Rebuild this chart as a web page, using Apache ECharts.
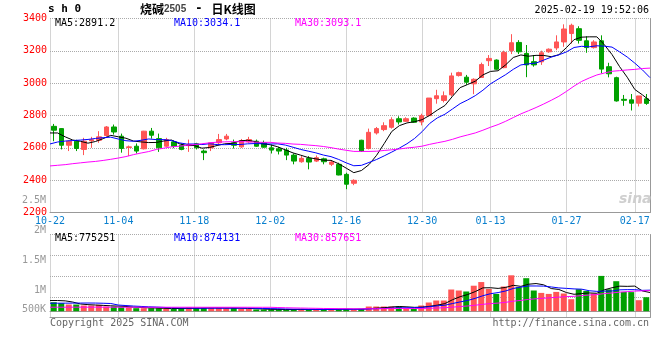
<!DOCTYPE html>
<html><head><meta charset="utf-8">
<script src="https://cdn.jsdelivr.net/npm/echarts@6/dist/echarts.min.js"></script>
<style>html,body{margin:0;padding:0;background:#fff}#c{width:660px;height:360px}</style>
</head><body><div id="c"></div>
<script>
const dates = ['10-22','10-23','10-24','10-25','10-28','10-29','10-30','10-31','11-01','11-04','11-05','11-06','11-07','11-08','11-11','11-12','11-13','11-14','11-15','11-18','11-19','11-20','11-21','11-22','11-25','11-26','11-27','11-28','11-29','12-02','12-03','12-04','12-05','12-06','12-09','12-10','12-11','12-12','12-13','12-16','12-17','12-18','12-19','12-20','12-23','12-24','12-25','12-26','12-27','12-30','12-31','01-02','01-03','01-06','01-07','01-08','01-09','01-10','01-13','01-14','01-15','01-16','01-17','01-20','01-21','01-22','01-23','01-24','01-27','02-05','02-06','02-07','02-10','02-11','02-12','02-13','02-14','02-17','02-18','02-19'];
const labelDates = ['10-22','11-04','11-18','12-02','12-16','12-30','01-13','01-27','02-17'];

const opens = [2733,2719,2616,2641,2590,2643,2647,2676,2729,2672, 2602,2610,2594,2703,2657,2610,2637,2616,2614,2625, 2580,2600,2631,2655,2631,2606,2637,2641,2631,2600, 2594,2586,2555,2514,2535,2518,2532,2498,2498,2436, 2381,2647,2596,2692,2713,2727,2780,2764,2784,2760, 2799,2904,2893,2928,3047,3037,2996,3035,3139,3143, 3096,3201,3252,3184,3133,3132,3194,3218,3255,3307, 3337,3262,3220,3262,3102,3034,2900,2897,2876,2903];
const closes = [2709,2616,2641,2596,2641,2650,2668,2729,2698,2596, 2606,2580,2703,2678,2600,2651,2610,2590,2620,2600, 2570,2631,2651,2672,2616,2645,2651,2610,2604,2586, 2580,2555,2518,2535,2512,2539,2514,2512,2432,2375, 2399,2580,2696,2719,2737,2774,2760,2780,2758,2799, 2908,2922,2922,3045,3065,3006,3024,3115,3153,3086, 3190,3250,3194,3113,3113,3188,3210,3255,3335,3358, 3265,3220,3255,3087,3058,2890,2894,2876,2921,2875];
const lows = [2641,2590,2580,2580,2555,2600,2631,2670,2682,2570, 2549,2565,2590,2657,2575,2606,2598,2585,2575,2590, 2524,2580,2620,2647,2596,2600,2631,2606,2600,2565, 2559,2524,2498,2508,2467,2512,2498,2487,2430,2344, 2369,2575,2590,2682,2703,2719,2744,2760,2754,2739, 2795,2873,2881,2918,3041,2990,2932,3035,3106,3082, 3092,3180,3180,3037,3102,3113,3188,3204,3225,3245, 3245,3188,3214,3061,3036,2886,2860,2831,2856,2866];
const highs = [2748,2722,2645,2650,2662,2668,2703,2735,2744,2688, 2614,2627,2705,2723,2688,2662,2645,2627,2651,2631, 2590,2631,2686,2686,2651,2655,2668,2651,2645,2620, 2606,2600,2565,2549,2549,2553,2539,2522,2508,2446, 2405,2650,2719,2729,2758,2789,2795,2789,2789,2811, 2908,2959,2949,3065,3071,3051,3030,3127,3174,3147, 3201,3303,3266,3236,3174,3201,3215,3296,3364,3368, 3352,3290,3266,3296,3126,3040,2927,2933,2921,2933];
const volumes = [373000,332000,278000,278000,237000,237000,261000,195000,195000,166000, 166000,125000,125000,125000,125000,95000,95000,125000,154000,137000, 137000,137000,137000,125000,137000,95000,95000,70000,70000,70000, 70000,70000,70000,95000,70000,70000,70000,95000,95000,95000, 54000,95000,195000,195000,195000,195000,195000,125000,95000,237000, 361000,444000,444000,900000,859000,818000,1058000,1210000,925000,718000, 1025000,1490000,996000,1370000,859000,760000,718000,801000,735000,498000, 913000,842000,735000,1465000,910000,1245000,801000,792000,457000,581000];

// moving-average values before enough history exists
const ma5Head = [2692,2692,2668,2648];
const ma10Head = [2624,2636,2642,2645,2648,2652,2658,2663,2666];
const ma30Head = [2488,2492,2496,2502,2507,2512,2516,2522,2529,2537,2546,2558,2568,2577,2590,2598,2606,2610,2615,2620,2625,2631,2635,2637,2638,2638,2637,2635,2634];
const vma5Head = [444000,444000,430000,380000];
const vma10Head = [332000,332000,334000,336000,338000,340000,338000,330000,320000];
const vma30Head = [166000,166000,166000,167000,167000,167000,167000,167000,166000,166000,166000,166000,166000,165000,165000,165000,165000,165000,165000,165000,164000,164000,164000,164000,164000,164000,164000,163000,163000];

const priceMin = 2200, priceMax = 3400, priceStep = 200;
const volLabelValues = [1000000, 1500000, 2000000, 2500000];

function movingAvg(vals, n, head) {
  return vals.map((v, i) => {
    if (i < n - 1) return head[i];
    let s = 0; for (let k = i - n + 1; k <= i; k++) s += vals[k];
    return +(s / n).toFixed(2);
  });
}
const mono = "'DejaVu Sans Mono', monospace";
const RED = '#ff5555', GREEN = '#00a000';
const dotted = { color: '#aaaaaa', type: 'dotted', width: 1 };
const showIdx = (idx, val) => labelDates.indexOf(val) >= 0;
const volFmt = v => v >= 1e6 ? (v / 1e6) + 'M' : (v / 1e3) + 'K';

const kData = opens.map((o, i) => [o, closes[i], lows[i], highs[i]]);
const volData = volumes.map((v, i) => ({ value: v, itemStyle: { color: closes[i] >= opens[i] ? RED : GREEN } }));

const chart = echarts.init(document.getElementById('c'), null, { renderer: 'canvas' });
const t = (text, opt, style) => Object.assign({ text, padding: 0, textStyle: Object.assign({ fontFamily: mono, fontSize: 10, fontWeight: 'normal', color: '#000' }, style || {}) }, opt);

chart.setOption({
  animation: false,
  backgroundColor: '#fff',
  title: [
    t('s h 0', { left: 48, top: 4 }, { fontSize: 11, fontWeight: 'bold' }),
    { text: '{a|烧碱}{b|2505}{c|-}{a|日K线图}', left: 140, top: 3, padding: 0,
      textStyle: { rich: {
        a: { fontFamily: "'Noto Sans CJK SC'", fontSize: 12, color: '#000' },
        b: { fontFamily: "'Liberation Sans'", fontSize: 10, color: '#444' },
        c: { fontFamily: mono, fontSize: 12, fontWeight: 'bold', color: '#000', padding: [0, 9, 0, 9] } } } },
    t('2025-02-19 19:52:06', { right: 11, top: 5 }),
    t('MA5:2891.2', { left: 55, top: 18.5 }, { color: '#000' }),
    t('MA10:3034.1', { left: 174, top: 18.5 }, { color: '#0000ff' }),
    t('MA30:3093.1', { left: 295, top: 18.5 }, { color: '#ff00ff' }),
    t('MA5:775251', { left: 55, top: 233 }, { color: '#000' }),
    t('MA10:874131', { left: 174, top: 233 }, { color: '#0000ff' }),
    t('MA30:857651', { left: 295, top: 233 }, { color: '#ff00ff' }),
    t('Copyright 2025 SINA.COM', { left: 50, top: 318 }, { color: '#666' }),
    t('http://finance.sina.com.cn', { right: 11, top: 318 }, { color: '#666' }),
    { text: 'sina', left: 619, top: 192, padding: 0, textStyle: { fontFamily: "'DejaVu Sans'", fontStyle: 'italic', fontWeight: 'bold', fontSize: 14, color: '#cfcfcf' } }
  ],
  grid: [
    { left: 50, top: 18.5, width: 600, height: 194 },
    { left: 50, top: 234.5, width: 600, height: 83 },
    { left: 50, top: 200.5, width: 600, height: 90 },
    { left: 50, top: 309, width: 600, height: 10 }
  ],
  xAxis: [
    { gridIndex: 0, type: 'category', data: dates, boundaryGap: false,
      axisLine: { show: true, lineStyle: { color: '#999' } }, axisTick: { show: false },
      axisLabel: { interval: showIdx, color: '#0a80cf', fontFamily: mono, fontSize: 10, margin: 4 },
      splitLine: { show: true, interval: showIdx, lineStyle: dotted } },
    { gridIndex: 0, type: 'category', data: dates, boundaryGap: true, show: false },
    { gridIndex: 1, type: 'category', data: dates, boundaryGap: false,
      axisLine: { show: true, lineStyle: { color: '#999' } }, axisTick: { show: false },
      axisLabel: { show: false }, splitLine: { show: true, interval: showIdx, lineStyle: dotted } },
    { gridIndex: 1, type: 'category', data: dates, boundaryGap: true, show: false },
    { gridIndex: 1, type: 'category', data: dates, boundaryGap: false, position: 'top',
      axisLine: { show: true, lineStyle: { color: '#999' } }, axisTick: { show: false },
      axisLabel: { show: false }, splitLine: { show: false } },
    { gridIndex: 2, type: 'value', show: false },
    { gridIndex: 3, type: 'value', show: false }
  ],
  yAxis: [
    { gridIndex: 0, type: 'value', min: priceMin, max: priceMax, interval: priceStep,
      axisLine: { show: false }, axisTick: { show: false },
      axisLabel: { color: '#ff0000', fontFamily: mono, fontSize: 10, margin: 3, padding: [0, 0, 4, 0], formatter: v => String(v) },
      splitLine: { show: true, lineStyle: dotted } },
    { gridIndex: 0, type: 'value', position: 'right', min: priceMin, max: priceMax,
      axisLine: { show: true, lineStyle: { color: '#999' } }, axisTick: { show: false },
      axisLabel: { show: false }, splitLine: { show: false } },
    { gridIndex: 1, type: 'value', min: -261000, max: 3183000, show: false, splitLine: { show: false } },
    { gridIndex: 1, type: 'value', min: 0, max: 4, interval: 1,
      axisLine: { show: false }, axisTick: { show: false }, axisLabel: { show: false },
      splitLine: { show: true, lineStyle: dotted } },
    { gridIndex: 1, type: 'value', position: 'right', min: 0, max: 4,
      axisLine: { show: true, lineStyle: { color: '#999' } }, axisTick: { show: false },
      axisLabel: { show: false }, splitLine: { show: false } },
    { gridIndex: 2, type: 'value', min: volLabelValues[0], max: volLabelValues[volLabelValues.length - 1], interval: 500000,
      axisLine: { show: false }, axisTick: { show: false }, splitLine: { show: false },
      axisLabel: { color: '#999', fontFamily: mono, fontSize: 10, margin: 4, formatter: volFmt } },
    { gridIndex: 3, type: 'value', min: 0, max: 500000, interval: 500000,
      axisLine: { show: false }, axisTick: { show: false }, splitLine: { show: false },
      axisLabel: { color: '#999', fontFamily: mono, fontSize: 10, margin: 4, formatter: v => v > 0 ? volFmt(v) : '' } }
  ],
  series: [
    { type: 'candlestick', xAxisIndex: 1, yAxisIndex: 0, data: kData, barWidth: 5,
      itemStyle: { color: RED, color0: GREEN, borderColor: RED, borderColor0: GREEN, borderWidth: 1 } },
    { type: 'line', xAxisIndex: 0, yAxisIndex: 0, data: movingAvg(closes, 5, ma5Head), symbol: 'none', lineStyle: { color: '#000', width: 1 } },
    { type: 'line', xAxisIndex: 0, yAxisIndex: 0, data: movingAvg(closes, 10, ma10Head), symbol: 'none', lineStyle: { color: '#0000ff', width: 1 } },
    { type: 'line', xAxisIndex: 0, yAxisIndex: 0, data: movingAvg(closes, 30, ma30Head), symbol: 'none', lineStyle: { color: '#ff00ff', width: 1 } },
    { type: 'bar', xAxisIndex: 3, yAxisIndex: 2, data: volData, barWidth: 6 },
    { type: 'line', xAxisIndex: 2, yAxisIndex: 2, data: movingAvg(volumes, 5, vma5Head), symbol: 'none', lineStyle: { color: '#000', width: 1 } },
    { type: 'line', xAxisIndex: 2, yAxisIndex: 2, data: movingAvg(volumes, 10, vma10Head), symbol: 'none', lineStyle: { color: '#0000ff', width: 1 } },
    { type: 'line', xAxisIndex: 2, yAxisIndex: 2, data: movingAvg(volumes, 30, vma30Head), symbol: 'none', lineStyle: { color: '#ff00ff', width: 1 } }
  ]
});
</script>
</body></html>
